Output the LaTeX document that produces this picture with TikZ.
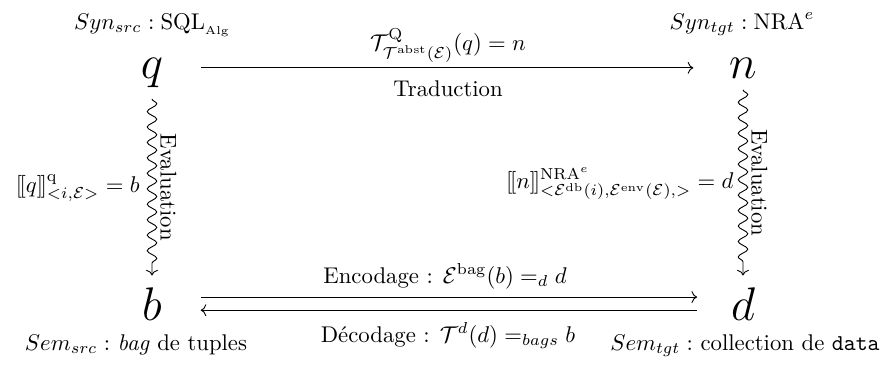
\documentclass[tikz,border=0pt]{standalone}
\usepackage{amsmath}
\usetikzlibrary{decorations.pathmorphing,arrows.meta}
\begin{document}
\begin{tikzpicture}[x=0.44pt,y=-0.44pt,
  big/.style={font=\huge, inner sep=5pt, anchor=base},
  lbl/.style={inner sep=0pt, anchor=base},
  wave/.style={->, decorate, decoration={snake, amplitude=2.1pt, segment length=6.8pt, post length=3pt}},
  evallbl/.style={rotate=-90, anchor=south, inner sep=3.5pt},
  harrow/.style={->}]
\useasboundingbox (0,0) rectangle (886,367);
% main nodes
\node[big] (q) at (152,78) {$q$};
\node[big] (n) at (743,78) {$n$};
\node[big] (b) at (152,320) {$b$};
\node[big] (d) at (743,320) {$d$};
% syntax / semantics labels
\node[lbl] (synsrc) at (152,29) {$Syn_{src}:\mathrm{SQL}_{\scriptscriptstyle\mathrm{Alg}}$};
\node[lbl] (syntgt) at (742,29) {$Syn_{tgt}:\mathrm{NRA}^{e}$};
\node[lbl] (semsrc) at (136,350) {$Sem_{src}:$ \textit{bag} de tuples};
\node[lbl] (semtgt) at (745,350) {$Sem_{tgt}:$ collection de \texttt{data}};
% translation
\draw[harrow, shorten <=11.4pt, shorten >=10.6pt] (q.east |- n.west) -- (n.west);
\node[lbl] (trmath) at (448,50) {$\mathcal{T}^{\mathrm{Q}}_{\mathcal{T}^{\mathrm{abst}}(\mathcal{E})}(q)=n$};
\node[lbl] (trtxt) at (448,96) {Traduction};
% evaluations
\draw[wave] (q.south) -- (b.north) node[midway, evallbl] (evl) {Evaluation};
\draw[wave] (n.south) -- (d.north) node[midway, evallbl] (evr) {Evaluation};
\node[lbl, anchor=base east] (semq) at (140,192) {$[\mkern-2mu[q]\mkern-2mu]^{\mathrm{q}}_{<i,\mathcal{E}>}=b$};
\node[lbl, anchor=base east] (semn) at (734,188) {$[\mkern-2mu[n]\mkern-2mu]^{\mathrm{NRA}^{e}}_{<\mathcal{E}^{\mathrm{db}}(i),\mathcal{E}^{\mathrm{env}}(\mathcal{E}),>}=d$};
% encoding / decoding
\draw[harrow, shorten <=11.9pt, shorten >=9.7pt] ([yshift=2.9pt]b.east) -- ([yshift=2.9pt]d.west);
\draw[harrow, shorten >=11.9pt, shorten <=9.7pt] ([yshift=-2.9pt]d.west) -- ([yshift=-2.9pt]b.east);
\node[lbl] (enc) at (445,283) {Encodage : $\mathcal{E}^{\mathrm{bag}}(b)=_{d}d$};
\node[lbl] (dec) at (448,342) {D\'ecodage : $\mathcal{T}^{d}(d)=_{bags}b$};
\end{tikzpicture}
\end{document}
